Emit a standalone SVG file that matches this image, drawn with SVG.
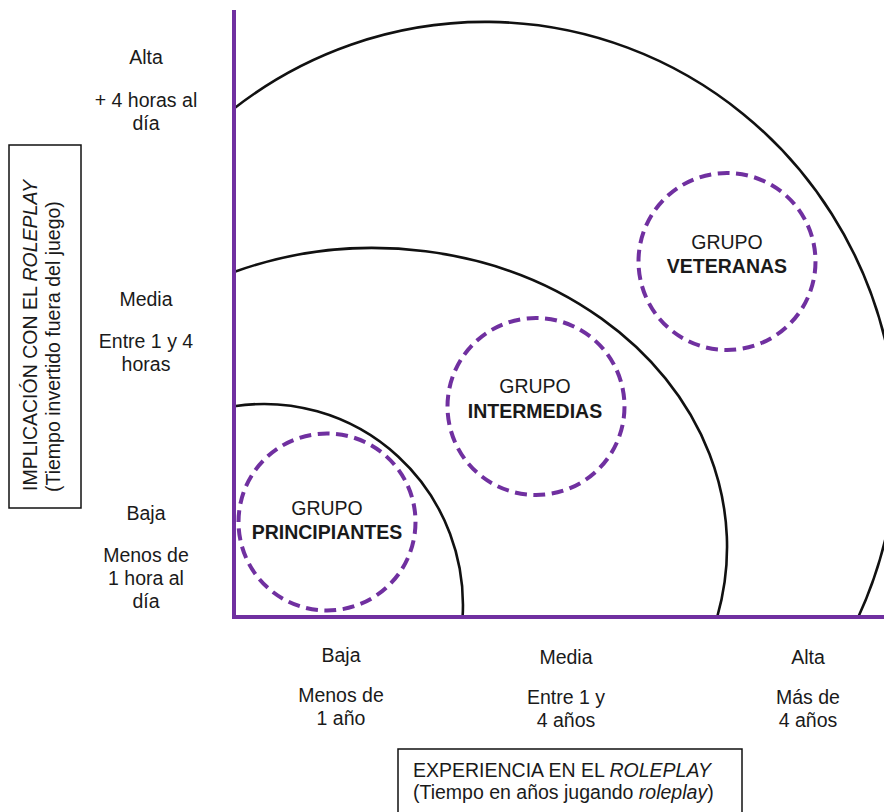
<svg xmlns="http://www.w3.org/2000/svg" width="884" height="812" viewBox="0 0 884 812">
<style>
text{font-family:"Liberation Sans",Arial,sans-serif;font-size:19.5px;fill:#1a1a1a}
.c{text-anchor:middle}
.b{font-weight:bold}
.i{font-style:italic}
.arc{fill:none;stroke:#111;stroke-width:2.6}
.axis{fill:none;stroke:#7030a0;stroke-width:4}
.grp{fill:none;stroke:#7030a0;stroke-width:4;stroke-dasharray:12 6.5}
.box{fill:#fff;stroke:#111;stroke-width:1.5}
</style>
<rect width="884" height="812" fill="#fff"/>
<g id="zones">
<path class="arc" d="M234 108.5 A412 418 0 0 1 858.3 617"/>
<path class="arc" d="M234 272 A354 299 0 0 1 717.2 617"/>
<path class="arc" d="M234 406.3 A199 201 0 0 1 462.6 617"/>
</g>
<g id="connectors">
<line class="axis" x1="234" y1="10" x2="234" y2="619"/>
<line class="axis" x1="232" y1="617" x2="884" y2="617"/>
</g>
<g id="principiantes">
<circle class="grp" cx="327" cy="522" r="88.5"/>
<text class="c" x="327" y="515">GRUPO</text>
<text class="c b" x="327" y="539">PRINCIPIANTES</text>
</g>
<g id="intermedias">
<circle class="grp" cx="536" cy="406.5" r="88.5"/>
<text class="c" x="535" y="393">GRUPO</text>
<text class="c b" x="535" y="418">INTERMEDIAS</text>
</g>
<g id="veteranas">
<circle class="grp" cx="727" cy="261.5" r="88.5"/>
<text class="c" x="727" y="249">GRUPO</text>
<text class="c b" x="727" y="273">VETERANAS</text>
</g>
<g id="y-labels">
<text class="c" x="146" y="64">Alta</text>
<text class="c" x="146" y="107">+ 4 horas al</text>
<text class="c" x="146" y="130">día</text>
<text class="c" x="146" y="306">Media</text>
<text class="c" x="146" y="348">Entre 1 y 4</text>
<text class="c" x="146" y="371">horas</text>
<text class="c" x="146" y="520">Baja</text>
<text class="c" x="146" y="562">Menos de</text>
<text class="c" x="146" y="585">1 hora al</text>
<text class="c" x="146" y="608">día</text>
</g>
<g id="x-labels">
<text class="c" x="341" y="662">Baja</text>
<text class="c" x="341" y="702">Menos de</text>
<text class="c" x="341" y="725">1 año</text>
<text class="c" x="566" y="664">Media</text>
<text class="c" x="566" y="704">Entre 1 y</text>
<text class="c" x="566" y="727">4 años</text>
<text class="c" x="808" y="664">Alta</text>
<text class="c" x="808" y="704">Más de</text>
<text class="c" x="808" y="727">4 años</text>
</g>
<g id="y-title">
<rect class="box" x="9" y="145" width="72" height="363"/>
<text transform="translate(37 491) rotate(-90)">IMPLICACIÓN CON EL <tspan class="i">ROLEPLAY</tspan></text>
<text transform="translate(60 492) rotate(-90)">(Tiempo invertido fuera del juego)</text>
</g>
<g id="x-title">
<rect class="box" x="398" y="749" width="344" height="70"/>
<text x="413" y="777">EXPERIENCIA EN EL <tspan class="i">ROLEPLAY</tspan></text>
<text x="413" y="799">(Tiempo en años jugando <tspan class="i">roleplay</tspan>)</text>
</g>
</svg>
